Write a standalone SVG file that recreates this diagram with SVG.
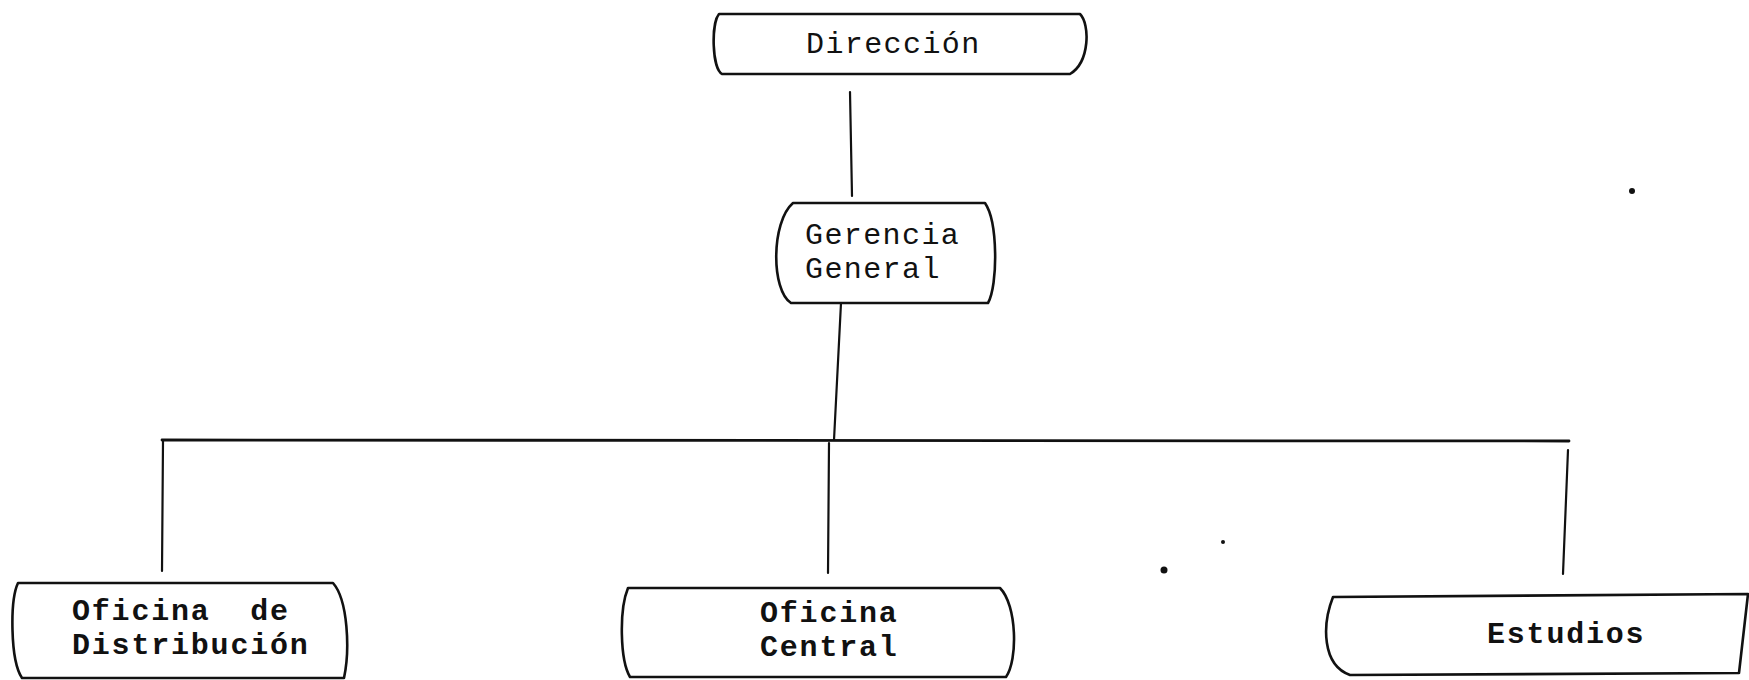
<svg xmlns="http://www.w3.org/2000/svg" width="1749" height="680" viewBox="0 0 1749 680">
<style>
.box{fill:none;stroke:#111;stroke-width:2.6;stroke-linecap:round;stroke-linejoin:round}
.conn{fill:none;stroke:#111;stroke-width:2.2;stroke-linecap:round}
.bus{stroke-width:2.8}
.t{font-family:"Liberation Mono","Courier New",monospace;font-size:30px;letter-spacing:1.4px;fill:#111}
.b{font-weight:bold;letter-spacing:1.8px}
.dot{fill:#111}
</style>
<rect width="1749" height="680" fill="#fff"/>
<g id="connectors">
<path class="conn" d="M850,92 L852,196"/>
<path class="conn" d="M841,303 L834,440"/>
<path class="conn bus" d="M162,440 L1569,441"/>
<path class="conn" d="M163,441 L162,571"/>
<path class="conn" d="M829,443 L828,573"/>
<path class="conn" d="M1568,450 L1563,574"/>
</g>
<g id="direccion">
<path class="box" d="M719,14 H1080 C1090,24 1090,62 1070,74 H722 C712,68 711,24 719,14 Z"/>
<text class="t" x="806" y="53">Dirección</text>
</g>
<g id="gerencia">
<path class="box" d="M793,203 H985 C998,222 998,285 988,303 H791 C771,290 771,222 793,203 Z"/>
<text class="t" x="805" y="244">Gerencia</text>
<text class="t" x="805" y="278">General</text>
</g>
<g id="oficina-distribucion">
<path class="box" d="M18,583 H333 C348,600 350,650 344,678 H22 C10,660 10,600 18,583 Z"/>
<text class="t b" x="72" y="620" xml:space="preserve">Oficina  de</text>
<text class="t b" x="72" y="654">Distribución</text>
</g>
<g id="oficina-central">
<path class="box" d="M628,588 H1000 C1017,605 1018,660 1006,677 H630 C620,660 619,610 628,588 Z"/>
<text class="t b" x="760" y="622">Oficina</text>
<text class="t b" x="760" y="656">Central</text>
</g>
<g id="estudios">
<path class="box" d="M1333,597 L1748,594 L1739,673 L1350,675 C1322,665 1322,625 1333,597 Z"/>
<text class="t b" x="1487" y="643">Estudios</text>
</g>
<g id="specks">
<circle class="dot" cx="1632" cy="191" r="3"/>
<circle class="dot" cx="1164" cy="570" r="3.5"/>
<circle class="dot" cx="1223" cy="542" r="2"/>
</g>
</svg>
